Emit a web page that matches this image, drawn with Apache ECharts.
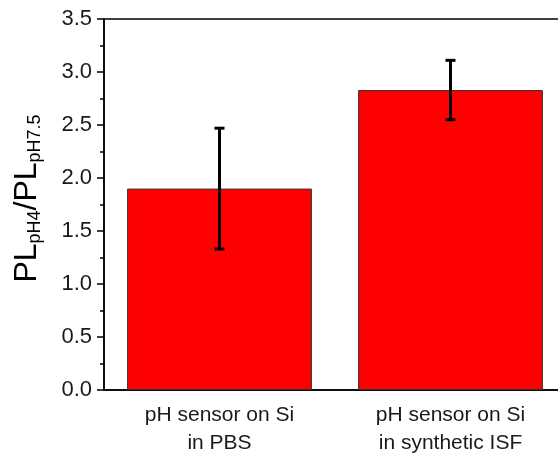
<!DOCTYPE html>
<html>
<head>
<meta charset="utf-8">
<script src="https://cdn.jsdelivr.net/npm/echarts@6/dist/echarts.min.js"></script>
<style>
  html, body { margin: 0; padding: 0; background: #fff; overflow: hidden; }
  #chart { width: 566px; height: 459px; }
</style>
</head>
<body>
<div id="chart"></div>
<script>
var categories = ['pH sensor on Si\nin PBS', 'pH sensor on Si\nin synthetic ISF'];
var values = [1.90, 2.83];
var errLow = [1.33, 2.55];
var errHigh = [2.47, 3.11];
var yTicks = { min: 0, max: 3.5, interval: 0.5 };

var chart = echarts.init(document.getElementById('chart'));
var font = 'Liberation Sans, Arial, sans-serif';

chart.setOption({
  animation: false,
  grid: {
    left: 104, top: 19, right: 0, bottom: 69,
    containLabel: false,
    show: true, borderColor: '#000', borderWidth: 1.5
  },
  xAxis: {
    type: 'category',
    data: categories,
    axisLine: { lineStyle: { color: '#000', width: 1.5 } },
    axisTick: { alignWithLabel: true, length: 7, lineStyle: { color: '#000', width: 1.5 } },
    axisLabel: { color: '#1a1a1a', fontFamily: font, fontSize: 21, lineHeight: 28, margin: 11 }
  },
  yAxis: {
    type: 'value',
    min: yTicks.min, max: yTicks.max, interval: yTicks.interval,
    splitLine: { show: false },
    axisLine: { show: true, lineStyle: { color: '#000', width: 1.5 } },
    axisTick: { show: true, length: 7, lineStyle: { color: '#000', width: 1.5 } },
    minorTick: { show: true, splitNumber: 2, length: 4, lineStyle: { color: '#000', width: 1.5 } },
    axisLabel: {
      color: '#1a1a1a', fontFamily: font, fontSize: 22, margin: 12,
      formatter: function (v) { return v.toFixed(1); }
    },
    name: '{m|PL}{s|pH4}{m|/PL}{s|pH7.5}',
    nameLocation: 'middle',
    nameGap: 57,
    nameTextStyle: {
      padding: [0, 0, 0, 12],
      rich: {
        m: { fontFamily: font, fontSize: 32, color: '#000', lineHeight: 40 },
        s: { fontFamily: font, fontSize: 18, color: '#000', lineHeight: 40, padding: [16, 0, 0, 0] }
      }
    }
  },
  series: [
    {
      type: 'bar',
      data: values,
      barWidth: '80%',
      itemStyle: { color: '#ff0000', borderColor: '#333', borderWidth: 1 }
    },
    {
      type: 'custom',
      data: categories.map(function (c, i) { return [i, errLow[i], errHigh[i]]; }),
      renderItem: function (params, api) {
        var i = api.value(0);
        var lo = api.coord([i, api.value(1)]);
        var hi = api.coord([i, api.value(2)]);
        var w = 5;
        var style = { stroke: '#000', lineWidth: 3 };
        return {
          type: 'group',
          children: [
            { type: 'line', shape: { x1: hi[0], y1: hi[1], x2: lo[0], y2: lo[1] }, style: style },
            { type: 'line', shape: { x1: hi[0] - w, y1: hi[1], x2: hi[0] + w, y2: hi[1] }, style: style },
            { type: 'line', shape: { x1: lo[0] - w, y1: lo[1], x2: lo[0] + w, y2: lo[1] }, style: style }
          ]
        };
      },
      z: 5
    }
  ]
});
</script>
</body>
</html>
